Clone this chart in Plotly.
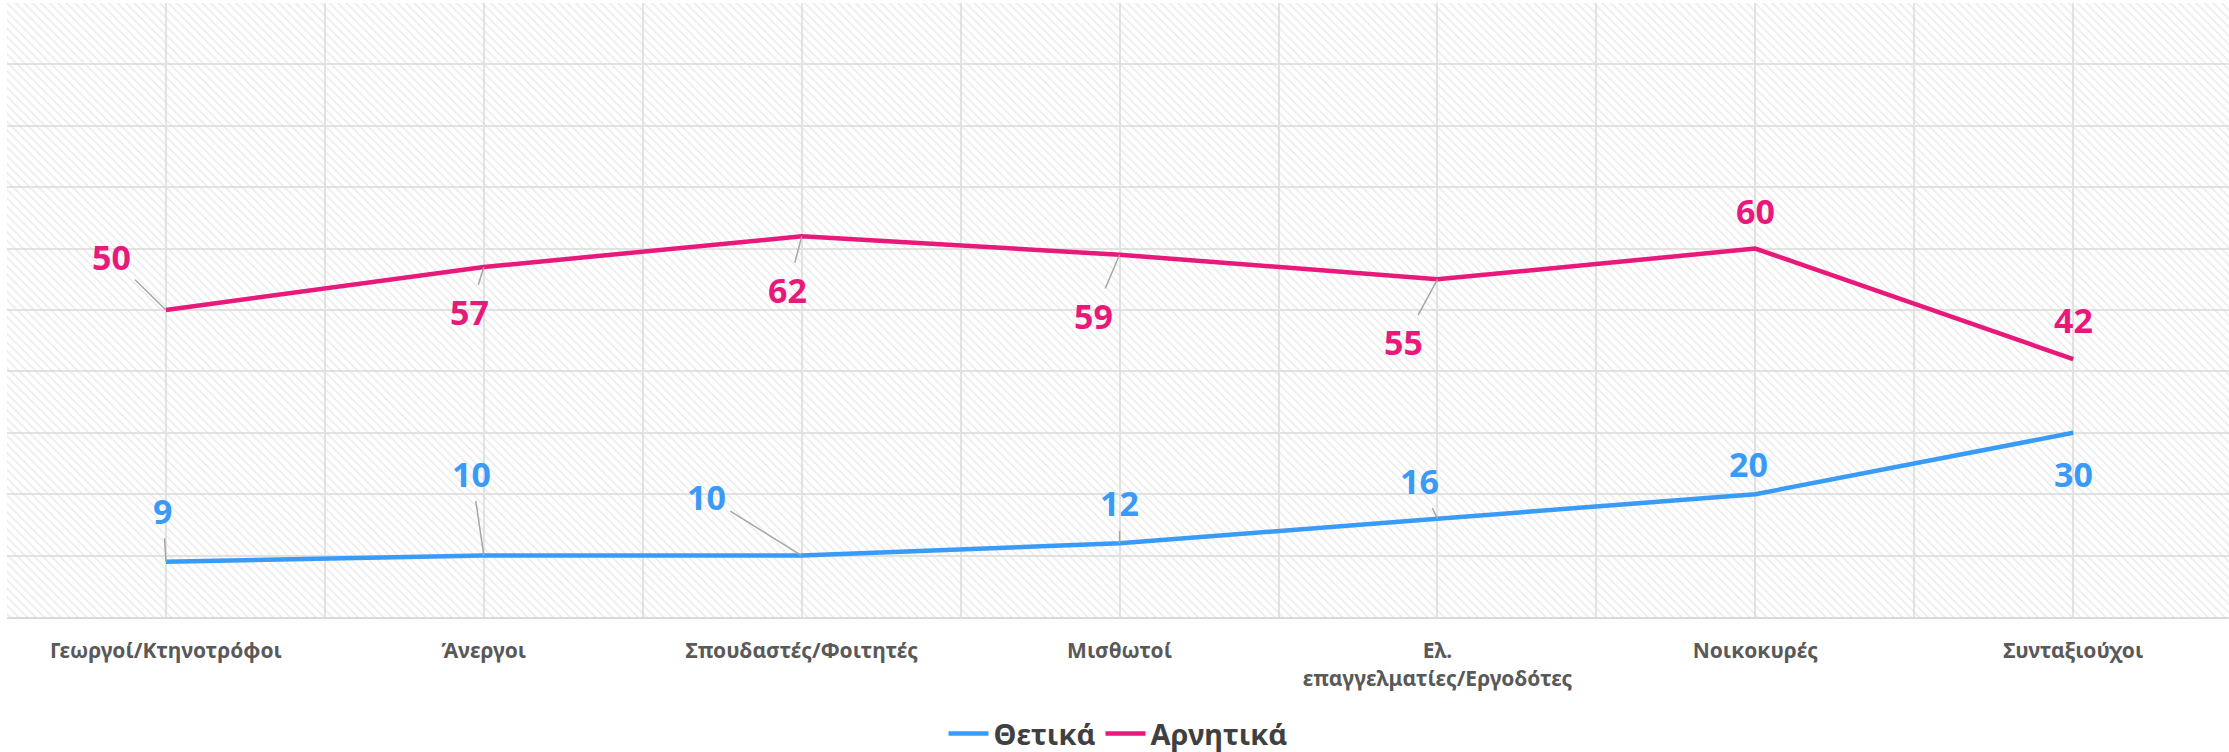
import plotly.graph_objects as go

categories = ["Γεωργοί/Κτηνοτρόφοι", "Άνεργοι", "Σπουδαστές/Φοιτητές", "Μισθωτοί",
              "Ελ.<br>επαγγελματίες/Εργοδότες", "Νοικοκυρές", "Συνταξιούχοι"]
positive = [9, 10, 10, 12, 16, 20, 30]
negative = [50, 57, 62, 59, 55, 60, 42]
series_names = ["Θετικά", "Αρνητικά"]

BLUE = "#3A9BF7"
PINK = "#E8197A"
FONT = "Noto Sans"

# label offsets (px) relative to the point and whether a leader line is drawn
pos_offsets = [(-3, -51, True), (-12, -82, True), (-95, -59, True), (0, -40, True),
               (-18, -38, True), (-7, -30, False), (0, 41, False)]
neg_offsets = [(-54, -53, True), (-14, 45, True), (-14, 54, True), (-26, 61, True),
               (-34, 63, True), (0, -38, False), (0, -39, False)]

xs = list(range(len(categories)))
x_lo, x_hi = -0.5, len(categories) - 0.51
y_lo, y_hi = 0, 100

fig = go.Figure()

# hatched plot background
fig.add_trace(go.Scatter(
    x=[x_lo, x_hi, x_hi, x_lo, x_lo], y=[y_lo, y_lo, y_hi, y_hi, y_lo],
    mode="none", fill="toself", fillcolor="rgba(0,0,0,0)",
    fillpattern=dict(shape="\\", fgcolor="#d9d9d9", bgcolor="rgba(0,0,0,0)",
                     size=6, solidity=0.3),
    hoverinfo="skip", showlegend=False))

fig.add_trace(go.Scatter(x=xs, y=positive, name=series_names[0], mode="lines",
                         line=dict(color=BLUE, width=4.5)))
fig.add_trace(go.Scatter(x=xs, y=negative, name=series_names[1], mode="lines",
                         line=dict(color=PINK, width=4.5)))

annotations = []
for vals, offs, col in ((positive, pos_offsets, BLUE), (negative, neg_offsets, PINK)):
    for x, v, (ax, ay, lead) in zip(xs, vals, offs):
        annotations.append(dict(
            x=x, y=v, xref="x", yref="y", text=str(v), showarrow=True,
            ax=ax, ay=ay, arrowhead=0, arrowwidth=1.5 if lead else 0.1,
            arrowcolor="#a6a6a6" if lead else "rgba(0,0,0,0)",
            startstandoff=3, standoff=0,
            font=dict(family=FONT, size=34, color=col, weight="bold")))

fig.update_layout(
    width=2229, height=752,
    margin=dict(l=7, r=0, t=3, b=135, autoexpand=False),
    paper_bgcolor="white", plot_bgcolor="white",
    font=dict(family=FONT),
    annotations=annotations,
    showlegend=True,
    legend=dict(orientation="h", x=0.5, xanchor="center", y=-0.19, yanchor="middle",
                font=dict(family=FONT, size=29, color="#404040", weight="bold"),
                itemwidth=40, tracegroupgap=0),
    xaxis=dict(range=[x_lo, x_hi], tickmode="array", tickvals=xs, ticktext=categories,
               showgrid=True, gridcolor="#e3e3e3", gridwidth=1.5, automargin=False,
               minor=dict(tickmode="array", tickvals=[i + 0.5 for i in range(-1, len(categories))],
                          showgrid=True, gridcolor="#e3e3e3", gridwidth=1.5),
               showline=True, linecolor="#d9d9d9", linewidth=2, mirror=False,
               ticks="", ticklabelstandoff=14, zeroline=False,
               tickfont=dict(family=FONT, size=21, color="#595959", weight="bold"),
               fixedrange=True),
    yaxis=dict(range=[y_lo, y_hi], dtick=10, showgrid=True, gridcolor="#e3e3e3", gridwidth=1.5,
               automargin=False,
               showticklabels=False, zeroline=False, showline=False, ticks="", fixedrange=True),
)

fig.write_html("out.html", config={"displayModeBar": False},
               post_script="document.body.style.margin='0';document.body.style.overflow='hidden';")
